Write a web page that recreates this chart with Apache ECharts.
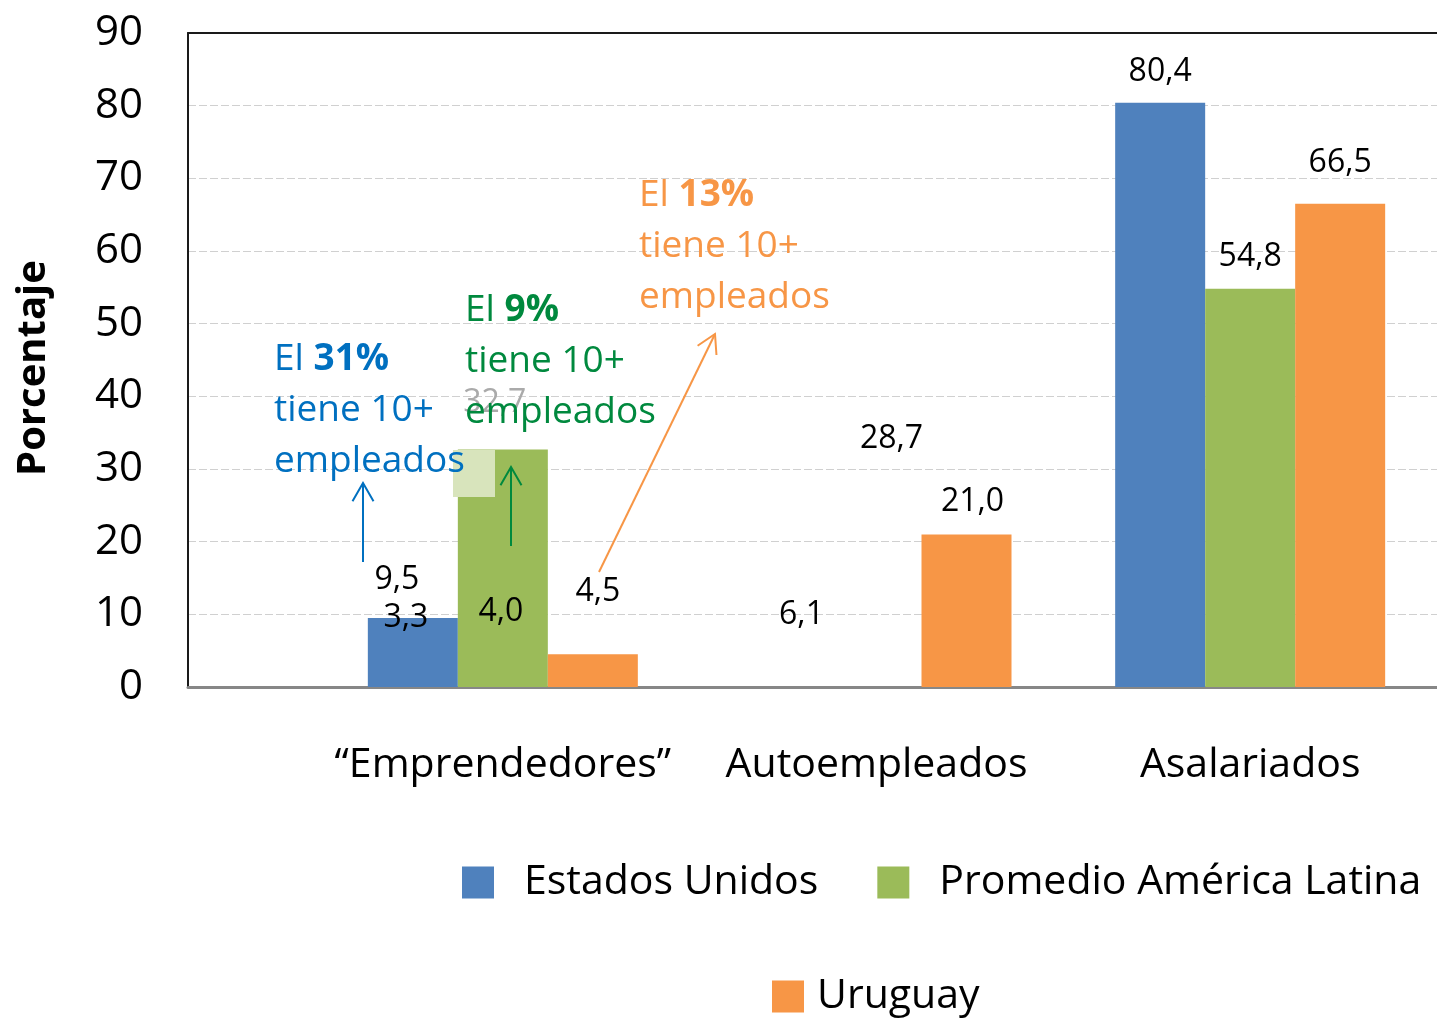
<!DOCTYPE html>
<html><head><meta charset="utf-8">
<script src="https://cdn.jsdelivr.net/npm/echarts@6/dist/echarts.min.js"></script>
<style>html,body{margin:0;padding:0;background:#fff}#c{width:1437px;height:1020px}</style>
</head><body><div id="c"></div>
<script>
// ---- data ----
const categories = ['\u201cEmprendedores\u201d', 'Autoempleados', 'Asalariados'];
const seriesNames = ['Estados Unidos', 'Promedio Am\u00e9rica Latina', 'Uruguay'];
const usValues = [9.5, 6.1, 80.4];
const latamValues = [32.7, 28.7, 54.8];
const uruguayValues = [4.5, 21.0, 66.5];
const usExtraLabels = [3.3, null, null];
const latamExtraLabels = [4.0, null, null];
const usHidden = [false, true, false];
const latamHidden = [false, true, false];
const uruguayHidden = [false, false, false];
const yMin = 0, yMax = 90, yInterval = 10;
const yAxisTitle = 'Porcentaje';
const notes = [
  { pct: '31%', color: '#0070C0' },
  { pct: '9%', color: '#00893E' },
  { pct: '13%', color: '#F79646' }
];

const FONT = "'Open Sans', sans-serif";
const COLORS = ['#4F81BD', '#9BBB59', '#F79646'];

function fmt(v) { return v.toFixed(1).replace('.', ','); }
function tok(extra) { return Object.assign({ fontFamily: FONT, fontSize: 32, color: '#000' }, extra); }

function makeSeries(name, values, color, extra, hidden, tweaks) {
  return {
    type: 'bar', name: name, xAxisIndex: 2, yAxisIndex: 1,
    barWidth: 90, barGap: '0%',
    itemStyle: { color: color },
    label: {
      show: true, position: 'top', distance: 17,
      fontFamily: FONT, fontSize: 32, lineHeight: 32, color: '#000',
      formatter: function (p) {
        const e = extra ? extra[p.dataIndex] : null;
        return e != null ? '{a|' + fmt(p.value) + '}\n{b|' + fmt(e) + '}' : fmt(p.value);
      }
    },
    data: values.map(function (v, i) {
      const d = { value: v };
      if (hidden[i]) d.itemStyle = { color: 'rgba(0,0,0,0)' };
      if (tweaks[i]) d.label = tweaks[i];
      return d;
    })
  };
}

const series = [
  makeSeries(seriesNames[0], usValues, COLORS[0], usExtraLabels, usHidden, [
    { distance: 0, offset: [-7, 19], rich: { a: tok({ lineHeight: 38, padding: [0, 18, 0, 0] }), b: tok({ lineHeight: 38 }) } },
    { distance: 12, offset: [15, 0] },
    { distance: 15 }
  ]),
  makeSeries(seriesNames[1], latamValues, COLORS[1], latamExtraLabels, latamHidden, [
    { distance: 0, offset: [-2, 267], rich: { a: tok({ lineHeight: 209, color: '#aaaaaa', padding: [0, 12, 0, 0] }), b: tok({ lineHeight: 209 }) } },
    { distance: 24, offset: [15, 0] },
    { distance: 16 }
  ]),
  makeSeries(seriesNames[2], uruguayValues, COLORS[2], null, uruguayHidden, [
    { distance: 46, offset: [5, 0] },
    { distance: 17, offset: [6, 0] },
    { distance: 25 }
  ])
];

// ---- annotations (decoration) ----
function noteText(n, left, top) {
  return {
    type: 'text', left: left, top: top, z: 100,
    style: {
      text: 'El {b|' + n.pct + '}\ntiene 10+\nempleados',
      fill: n.color, fontFamily: FONT, fontSize: 37, lineHeight: 51,
      rich: { b: { fill: n.color, fontFamily: FONT, fontSize: 37, fontWeight: 'bold', lineHeight: 51 } }
    }
  };
}
function arrow(x1, y1, x2, y2, color) {
  const dx = x2 - x1, dy = y2 - y1, L = Math.hypot(dx, dy);
  const bx = -dx / L * 21, by = -dy / L * 21;
  const a = Math.PI / 6;
  const w1 = [x2 + bx * Math.cos(a) - by * Math.sin(a), y2 + bx * Math.sin(a) + by * Math.cos(a)];
  const w2 = [x2 + bx * Math.cos(-a) - by * Math.sin(-a), y2 + bx * Math.sin(-a) + by * Math.cos(-a)];
  return [
    { type: 'polyline', z: 100, shape: { points: [[x1, y1], [x2, y2]] }, style: { stroke: color, lineWidth: 2, fill: null } },
    { type: 'polyline', z: 100, shape: { points: [w1, [x2, y2], w2] }, style: { stroke: color, lineWidth: 2, fill: null } }
  ];
}

const graphic = [
  { type: 'rect', z: 99, shape: { x: 453, y: 450, width: 42, height: 47 }, style: { fill: '#d8e4bc' } },
  noteText(notes[0], 274, 334),
  noteText(notes[1], 465, 285),
  noteText(notes[2], 639, 170)
].concat(
  arrow(363, 562, 363, 483, notes[0].color),
  arrow(511, 546, 511, 467, notes[1].color),
  arrow(599, 572, 715, 334, notes[2].color)
);

const option = {
  animation: false,
  backgroundColor: '#fff',
  textStyle: { fontFamily: FONT },
  grid: [
    { left: 188, top: 33, right: 0, bottom: 333 },
    { left: 316, top: 33, width: 1122, bottom: 333 }
  ],
  xAxis: [
    { gridIndex: 0, type: 'category', data: [''], position: 'bottom', axisLine: { show: true, lineStyle: { color: '#878787', width: 3 } }, axisTick: { show: false }, axisLabel: { show: false }, splitLine: { show: false } },
    { gridIndex: 0, type: 'category', data: [''], position: 'top', axisLine: { show: true, lineStyle: { color: '#1a1a1a', width: 2 } }, axisTick: { show: false }, axisLabel: { show: false }, splitLine: { show: false } },
    { gridIndex: 1, type: 'category', data: categories, axisLine: { show: false }, axisTick: { show: false },
      axisLabel: { fontFamily: FONT, fontSize: 41, lineHeight: 41, color: '#000', margin: 58, interval: 0 } }
  ],
  yAxis: [
    { gridIndex: 0, type: 'value', min: yMin, max: yMax, interval: yInterval,
      axisLine: { show: true, lineStyle: { color: '#1a1a1a', width: 2 } }, axisTick: { show: false },
      axisLabel: { fontFamily: FONT, fontSize: 42, color: '#000', margin: 45 },
      splitLine: { show: true, showMaxLine: false, showMinLine: false, lineStyle: { color: '#d0d0d0', width: 1, type: [8, 3] } },
      name: yAxisTitle, nameLocation: 'middle', nameRotate: 90, nameGap: 134,
      nameTextStyle: { fontFamily: FONT, fontSize: 40, fontWeight: 'bold', color: '#000', lineHeight: 40, padding: [0, 0, 0, -16] } },
    { gridIndex: 1, type: 'value', min: yMin, max: yMax, interval: yInterval, show: false }
  ],
  legend: [
    { data: [seriesNames[0], seriesNames[1]], left: 462, top: 862, orient: 'horizontal', padding: 0,
      icon: 'rect', itemWidth: 32, itemHeight: 32, itemGap: 59, selectedMode: false,
      textStyle: { fontFamily: FONT, fontSize: 41, lineHeight: 41, color: '#000', padding: [0, 0, 0, 25] } },
    { data: [seriesNames[2]], left: 772, top: 976, orient: 'horizontal', padding: 0,
      icon: 'rect', itemWidth: 32, itemHeight: 32, selectedMode: false,
      textStyle: { fontFamily: FONT, fontSize: 41, lineHeight: 41, color: '#000', padding: [0, 0, 0, 8] } }
  ],
  series: series,
  graphic: graphic
};

const chart = echarts.init(document.getElementById('c'), null, { renderer: 'canvas' });
chart.setOption(option);
</script>
</body></html>
